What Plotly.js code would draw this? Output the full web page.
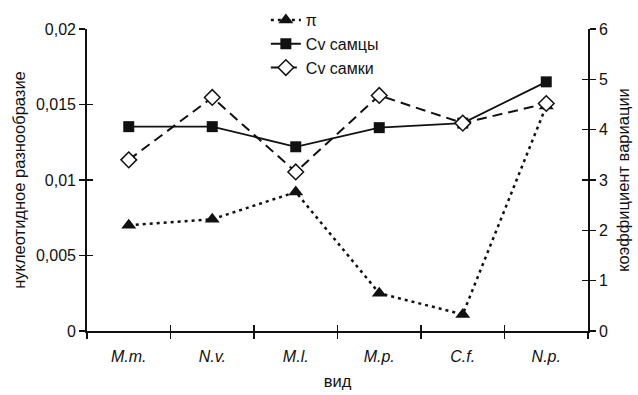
<!DOCTYPE html>
<html>
<head>
<meta charset="utf-8">
<script src="https://cdn.plot.ly/plotly-3.0.1.min.js"></script>
<style>html,body{margin:0;padding:0;background:#fff;}#chart{width:638px;height:395px;}</style>
</head>
<body>
<div id="chart"></div>
<script>
var categories = ['M.m.', 'N.v.', 'M.l.', 'M.p.', 'C.f.', 'N.p.'];
var piValues = [0.0070, 0.0074, 0.0092, 0.0025, 0.0011, 0.0149];
var cvMales = [4.06, 4.06, 3.66, 4.04, 4.13, 4.95];
var cvFemales = [3.40, 4.64, 3.16, 4.68, 4.13, 4.52];
var leftTicks = [0, 0.005, 0.01, 0.015, 0.02];
var rightTicks = [0, 1, 2, 3, 4, 5, 6];

var fontFam = 'Liberation Sans, Arial, sans-serif';
var ink = '#111';
var fs = 16;
var tfs = 16.5;

var traces = [
  {x: categories, y: piValues, name: 'π', yaxis: 'y', type: 'scatter', mode: 'lines+markers', legendgroup: 'a',
   line: {color: ink, width: 2.5, dash: '3px,4px'},
   marker: {symbol: 'triangle-up', size: 13, color: ink}},
  {x: categories, y: cvMales, name: 'Cv самцы', yaxis: 'y2', type: 'scatter', mode: 'lines+markers', legendgroup: 'b',
   line: {color: ink, width: 1.8},
   marker: {symbol: 'square', size: 11, color: ink}},
  {x: categories, y: cvFemales, name: 'Cv самки', yaxis: 'y2', type: 'scatter', mode: 'lines+markers', legendgroup: 'c',
   line: {color: ink, width: 2, dash: '10px,6px'},
   marker: {symbol: 'diamond', size: 12, color: '#fff', line: {color: ink, width: 1.5}}}
];

var axisCommon = {showgrid: false, zeroline: false, showline: true, linecolor: ink, linewidth: 1.8,
  ticks: 'outside', ticklen: 6, tickwidth: 1.5, tickcolor: ink,
  tickfont: {family: fontFam, size: fs, color: ink}};

var layout = {
  width: 638, height: 395,
  margin: {l: 87, r: 50, t: 29, b: 64, autoexpand: false},
  paper_bgcolor: '#fff', plot_bgcolor: '#fff',
  separators: ', ',
  font: {family: fontFam, size: fs, color: ink},
  showlegend: true,
  legend: {x: 0.357, y: 1.086, xanchor: 'left', yanchor: 'top',
    bgcolor: 'rgba(0,0,0,0)',
    font: {family: fontFam, size: fs, color: ink}, traceorder: 'grouped', tracegroupgap: 0},
  xaxis: Object.assign({}, axisCommon, {
    type: 'category', range: [-0.5, 5.5], tickson: 'boundaries', ticklabelstandoff: 10,
    tickfont: {family: fontFam, size: fs, color: ink, style: 'italic'},
    title: {text: 'вид', font: {family: fontFam, size: tfs, color: ink}, standoff: 11}
  }),
  yaxis: Object.assign({}, axisCommon, {
    range: [0, 0.02], tickvals: leftTicks,
    title: {text: 'нуклеотидное разнообразие', font: {family: fontFam, size: tfs, color: ink}, standoff: 6}
  }),
  yaxis2: Object.assign({}, axisCommon, {
    range: [0, 6], tickvals: rightTicks, overlaying: 'y', side: 'right',
    title: {text: 'коэффициент вариации', font: {family: fontFam, size: tfs, color: ink}, standoff: 10}
  }),
  xaxis3: Object.assign({}, axisCommon, {
    type: 'category', range: [-0.5, 5.5], tickson: 'boundaries', overlaying: 'x', anchor: 'y',
    ticks: 'inside', showticklabels: false, showline: false
  }),
  yaxis3: Object.assign({}, axisCommon, {
    range: [0, 0.02], tickvals: leftTicks, overlaying: 'y', side: 'left', anchor: 'x',
    ticks: 'inside', showticklabels: false, showline: false
  }),
  yaxis4: Object.assign({}, axisCommon, {
    range: [0, 6], tickvals: rightTicks, overlaying: 'y', side: 'right', anchor: 'x',
    ticks: 'inside', showticklabels: false, showline: false
  })
};

// invisible helper traces so the inner-tick overlay axes are drawn
traces.push({x: categories, y: piValues, xaxis: 'x3', yaxis: 'y3', type: 'scatter', mode: 'none', showlegend: false, hoverinfo: 'skip'});
traces.push({x: categories, y: cvMales, xaxis: 'x3', yaxis: 'y4', type: 'scatter', mode: 'none', showlegend: false, hoverinfo: 'skip'});

Plotly.newPlot('chart', traces, layout, {staticPlot: true});
</script>
</body>
</html>
